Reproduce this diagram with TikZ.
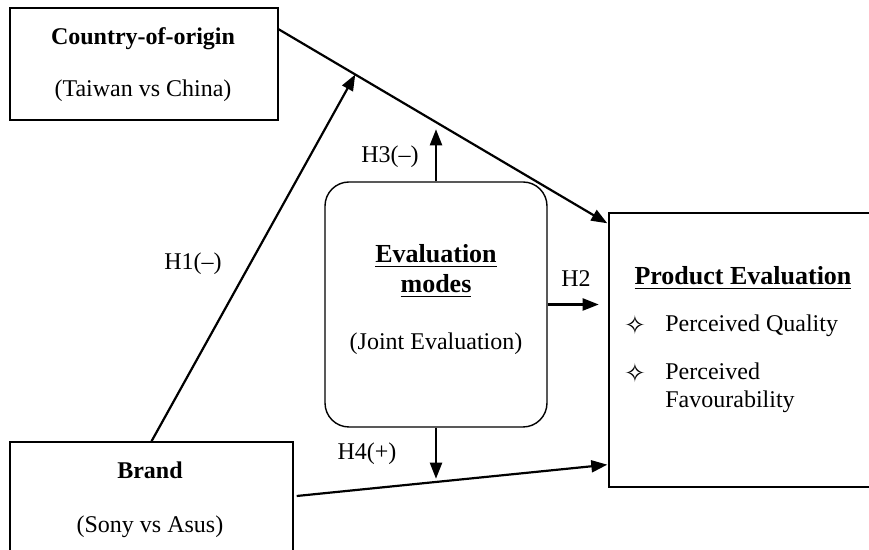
\documentclass[tikz,border=0pt]{standalone}
\usepackage{fontspec}
\setmainfont{Liberation Serif}
\newfontfamily\symfont{DejaVu Sans}
\usetikzlibrary{arrows.meta,calc}
\tikzset{
  box/.style={draw, line width=0.7pt, inner sep=0pt},
  txt/.style={anchor=base, inner sep=0pt, font=\fontsize{12}{14}\selectfont},
  btxt/.style={anchor=base, inner sep=0pt, font=\fontsize{12}{14}\selectfont\bfseries},
  htxt/.style={anchor=base, inner sep=0pt, font=\fontsize{13}{15}\selectfont\bfseries},
  ltxt/.style={anchor=base west, inner sep=0pt, font=\fontsize{12}{14}\selectfont},
  sym/.style={inner sep=0pt, font=\fontsize{13}{15}\symfont},
  arr/.style={line width=1.1pt, -{Triangle[length=8pt,width=6pt]}},
}
\begin{document}
\begin{tikzpicture}[x=0.5pt,y=-0.5pt]
\useasboundingbox (0,0) rectangle (869,550);
% boxes
\node[box, minimum width=134pt, minimum height=56pt] (coo) at (144,64) {};
\node[box, minimum width=141.5pt, minimum height=56pt] (brand) at (151.5,498) {};
\node[box, rounded corners=12pt, minimum width=111pt, minimum height=122.5pt] (eval) at (436,304.5) {};
\node[box, minimum width=131.5pt, minimum height=137pt] (pe) at (740.5,350) {};
% texts
\node[btxt] (cooT) at (143,45) {Country-of-origin};
\node[txt] (cooS) at (143,97) {(Taiwan vs China)};
\node[btxt] (brandT) at (150,479) {Brand};
\node[txt] (brandS) at (150,533) {(Sony vs Asus)};
\node[htxt] (evalT1) at (436,263) {\underline{Evaluation}};
\node[htxt] (evalT2) at (436,293) {\underline{modes}};
\node[txt] (evalS) at (436,350) {(Joint Evaluation)};
\node[htxt] (peT) at (743,285) {\underline{Product Evaluation}};
\node[sym] (b1) at (635,325) {✧};
\node[sym] (b2) at (635,373) {✧};
\node[ltxt] (q1) at (665,332) {Perceived Quality};
\node[ltxt] (q2) at (665,380) {Perceived};
\node[ltxt] (q3) at (665,408) {Favourability};
\node[txt] (h1) at (193,270) {H1(–)};
\node[txt] (h2) at (576,287) {H2};
\node[txt] (h3) at (390,163) {H3(–)};
\node[txt] (h4) at (367,460) {H4(+)};
% connector end points
\coordinate (cooOut) at ($(coo.north east)+(0,22)$);
\coordinate (peIn1) at ($(pe.north west)+(-1,11)$);
\coordinate (h1tip) at ($(cooOut)!0.233!(peIn1)$);
\coordinate (h3tip) at ($(eval.north)+(0,-52)$);
\coordinate (h2tip) at ($(eval.east)+(51,0)$);
\coordinate (h4tip) at ($(eval.south)+(0,51)$);
\coordinate (peIn2) at ($(pe.south west)+(-1,-23)$);
% connectors
\draw[arr] (cooOut) -- (peIn1);
\draw[arr] (brand.north) -- (h1tip);
\draw[arr] (eval.north) -- (h3tip);
\draw[arr] (eval.east) -- (h2tip);
\draw[arr] (eval.south) -- (h4tip);
\draw[arr] ($(brand.east)+(3,-2)$) -- (peIn2);
\end{tikzpicture}
\end{document}
